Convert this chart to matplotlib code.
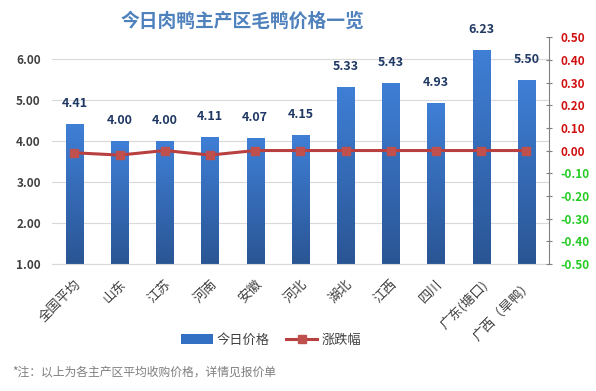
import matplotlib
matplotlib.use("Agg")
import matplotlib.pyplot as plt
import numpy as np

plt.rcParams['font.family'] = ['Noto Sans CJK SC', 'DejaVu Sans']

regions = ["全国平均", "山东", "江苏", "河南", "安徽", "河北", "湖北", "江西", "四川", "广东(塘口)", "广西（旱鸭）"]
prices = [4.41, 4.00, 4.00, 4.11, 4.07, 4.15, 5.33, 5.43, 4.93, 6.23, 5.50]
changes = [-0.01, -0.02, 0.00, -0.02, 0.00, 0.00, 0.00, 0.00, 0.00, 0.00, 0.00]
left_ticks = [1, 2, 3, 4, 5, 6]
right_ticks = [-0.5, -0.4, -0.3, -0.2, -0.1, 0.0, 0.1, 0.2, 0.3, 0.4, 0.5]

fig = plt.figure(figsize=(5.96, 3.91), dpi=100)
ax = fig.add_axes([0.087, 0.325, 0.834, 0.58])
x = np.arange(len(regions))

bars = ax.bar(x, prices, width=0.38, color="#3370c4", zorder=2, label="今日价格")
# vertical gradient inside the bars
grad = np.linspace(0, 1, 256).reshape(-1, 1)
cmap = matplotlib.colors.LinearSegmentedColormap.from_list("b", ["#2a5594", "#3f7fd6"])
for b in bars:
    im = ax.imshow(grad, cmap=cmap, aspect="auto", origin="lower", zorder=2.1,
                   extent=[b.get_x(), b.get_x() + b.get_width(), 1, b.get_height()])
    im.set_clip_path(b)

for xi, v in zip(x, prices):
    ax.annotate(f"{v:.2f}", (xi, v), xytext=(0, 10), textcoords="offset points",
                ha="center", va="bottom", fontsize=9, fontweight="bold", color="#1f3864")

ax.set_xlim(-0.5, len(regions) - 0.5)
ax.set_ylim(1, 6.54)
ax.set_yticks(left_ticks)
ax.set_yticklabels([f"{t:.2f}" for t in left_ticks], fontsize=8.5, color="#404040", fontweight="bold")
ax.yaxis.grid(True, color="#d9d9d9", lw=0.8, zorder=0)
ax.set_axisbelow(True)
ax.tick_params(axis="y", length=0, pad=8)
ax.tick_params(axis="x", length=0, pad=10)
for s in ["top", "right", "left"]:
    ax.spines[s].set_visible(False)
ax.spines["bottom"].set_color("#d9d9d9")
ax.set_xticks(x)
ax.set_xticklabels(regions, rotation=45, ha="right", rotation_mode="anchor",
                   fontsize=9.5, color="#404040")

ax2 = ax.twinx()
line, = ax2.plot(x, changes, color="#b94040", lw=2.2, marker="s", markersize=6,
                 markerfacecolor="#c0504d", markeredgecolor="#c0504d", label="涨跌幅", zorder=3)
ax2.set_ylim(-0.5, 0.5)
ax2.set_yticks(right_ticks)
ax2.set_yticklabels([f"{t:.2f}" for t in right_ticks], fontsize=8.5, fontweight="bold")
for lab, t in zip(ax2.get_yticklabels(), right_ticks):
    lab.set_color("#d01010" if t >= 0 else "#22cc22")
for s in ["top", "left", "bottom"]:
    ax2.spines[s].set_visible(False)
ax2.spines["right"].set_color("#808080")
ax2.tick_params(axis="y", direction="inout", length=4, color="#808080", pad=6)

fig.text(0.406, 0.945, "今日肉鸭主产区毛鸭价格一览", ha="center", va="center",
         fontsize=13.5, fontweight="bold", color="#4f81bd")

fig.legend([bars, line], ["今日价格", "涨跌幅"], loc="center", bbox_to_anchor=(0.455, 0.13),
           ncol=2, frameon=False, fontsize=9.5, handlelength=2.4, columnspacing=1.2,
           handletextpad=0.3, labelcolor="#404040")

fig.text(0.02, 0.048, "*注：以上为各主产区平均收购价格，详情见报价单", ha="left", va="center",
         fontsize=8.5, color="#7f7f7f")

fig.savefig("out.png", dpi=100)
